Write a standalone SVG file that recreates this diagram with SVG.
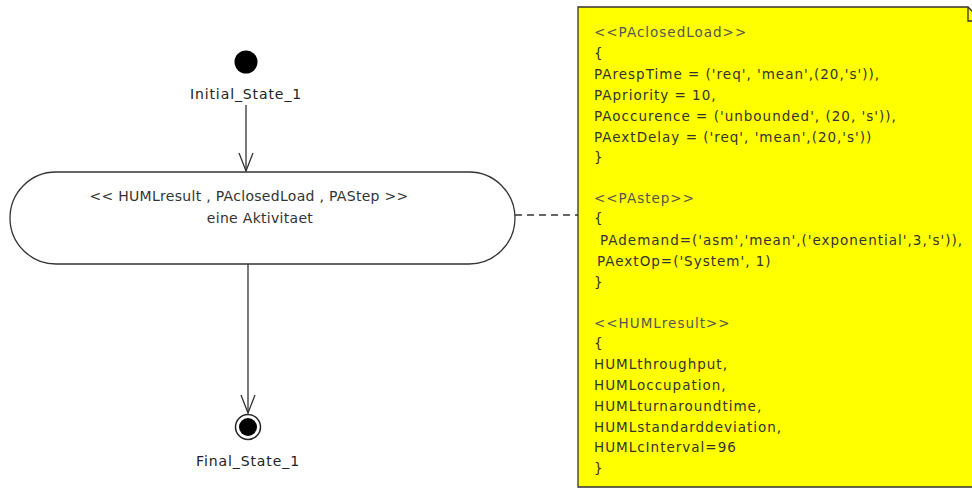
<svg xmlns="http://www.w3.org/2000/svg" width="972" height="498" viewBox="0 0 972 498">
  <defs>
    <style>
      .lbl { font-family: "DejaVu Sans", "Liberation Sans", sans-serif; font-size: 14px; letter-spacing: 0.9px; fill: #222; }
      .act { font-family: "DejaVu Sans", "Liberation Sans", sans-serif; font-size: 14px; letter-spacing: 0.3px; fill: #333; }
      .note { font-family: "DejaVu Sans", "Liberation Sans", sans-serif; font-size: 13.5px; letter-spacing: 1px; fill: #333; }
      .stereo { fill: #555; }
      .edge { fill: none; stroke: #333; stroke-width: 1.3; }
    </style>
    <marker id="open-arrow" viewBox="0 0 20 16" refX="19" refY="8" markerWidth="20" markerHeight="16" markerUnits="userSpaceOnUse" orient="auto">
      <path d="M1,1 L19,8 L1,15" fill="none" stroke="#333" stroke-width="1.3"/>
    </marker>
  </defs>

  <rect width="972" height="498" fill="#ffffff"/>

  <!-- connectors -->
  <g id="connectors">
    <line class="edge" x1="246" y1="105" x2="246" y2="171" marker-end="url(#open-arrow)"/>
    <line class="edge" x1="248" y1="264" x2="248" y2="413" marker-end="url(#open-arrow)"/>
    <line class="edge" x1="515" y1="215" x2="578" y2="215" stroke-dasharray="7,5"/>
  </g>

  <!-- initial state -->
  <g id="initial_state">
    <circle cx="246" cy="62" r="11.5" fill="#000"/>
    <text class="lbl" x="246" y="99" text-anchor="middle">Initial_State_1</text>
  </g>

  <!-- activity -->
  <g id="activity">
    <rect x="10" y="172" width="505" height="92" rx="46" ry="46" fill="#fff" stroke="#333" stroke-width="1.3"/>
    <text class="act" x="249" y="201" text-anchor="middle">&lt;&lt; HUMLresult , PAclosedLoad , PAStep &gt;&gt;</text>
    <text class="act" x="260" y="223" text-anchor="middle">eine Aktivitaet</text>
  </g>

  <!-- final state -->
  <g id="final_state">
    <circle cx="248" cy="427" r="12.5" fill="#fff" stroke="#222" stroke-width="1.5"/>
    <circle cx="248" cy="427" r="9" fill="#000"/>
    <text class="lbl" x="248" y="466" text-anchor="middle">Final_State_1</text>
  </g>

  <!-- annotation note -->
  <g id="note">
    <path d="M578,7 H968 L984,23 V487 H578 Z" fill="#ffff00" stroke="#333" stroke-width="1.3"/>
    <path d="M968,7 V21 H984" fill="none" stroke="#333" stroke-width="1.3"/>
    <text class="note">
      <tspan class="stereo" x="594" y="37">&lt;&lt;PAclosedLoad&gt;&gt;</tspan>
      <tspan x="594" y="58">{</tspan>
      <tspan x="594" y="79">PArespTime = ('req', 'mean',(20,'s')),</tspan>
      <tspan x="594" y="100">PApriority = 10,</tspan>
      <tspan x="594" y="121">PAoccurence = ('unbounded', (20, 's')),</tspan>
      <tspan x="594" y="142">PAextDelay = ('req', 'mean',(20,'s'))</tspan>
      <tspan x="594" y="162">}</tspan>
      <tspan class="stereo" x="594" y="203">&lt;&lt;PAstep&gt;&gt;</tspan>
      <tspan x="594" y="223">{</tspan>
      <tspan x="600" y="245">PAdemand=('asm','mean',('exponential',3,'s')),</tspan>
      <tspan x="597" y="266">PAextOp=('System', 1)</tspan>
      <tspan x="594" y="287">}</tspan>
      <tspan class="stereo" x="594" y="328">&lt;&lt;HUMLresult&gt;&gt;</tspan>
      <tspan x="594" y="348">{</tspan>
      <tspan x="594" y="369">HUMLthroughput,</tspan>
      <tspan x="594" y="390">HUMLoccupation,</tspan>
      <tspan x="594" y="411">HUMLturnaroundtime,</tspan>
      <tspan x="594" y="432">HUMLstandarddeviation,</tspan>
      <tspan x="594" y="452">HUMLcInterval=96</tspan>
      <tspan x="594" y="473">}</tspan>
    </text>
  </g>
</svg>
